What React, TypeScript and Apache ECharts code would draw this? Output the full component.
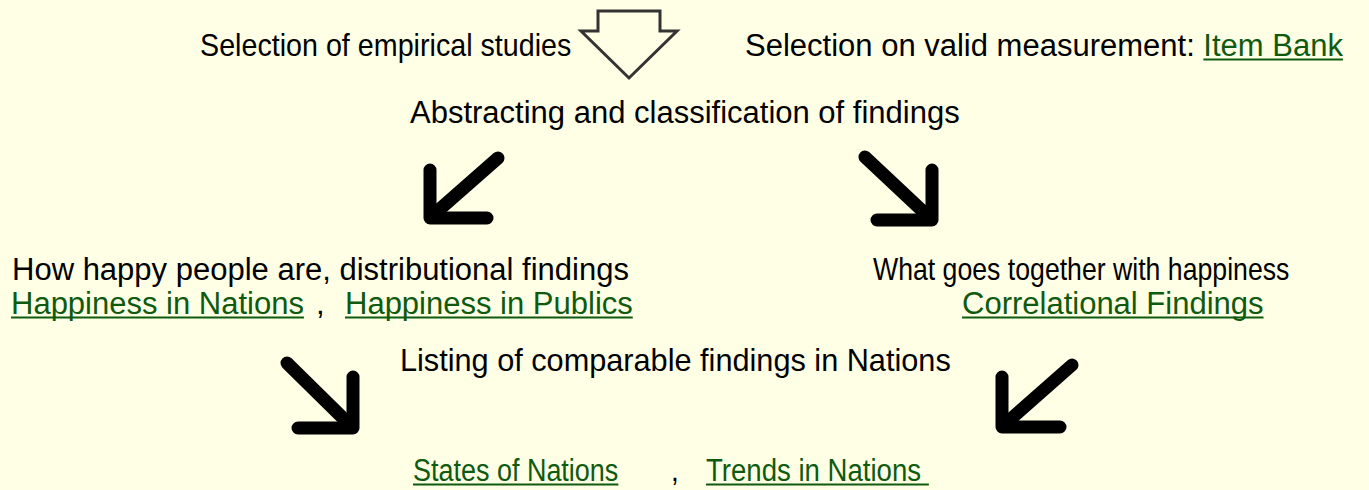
import React, { useEffect, useRef } from "react";
import * as echarts from "echarts";

const BG = "#FFFFE6";
const TEXT_COLOR = "#000000";
const LINK_COLOR = "#0E5A0E";
const FONT_FAMILY = "Liberation Sans";
const FONT_SIZE = 31;

// Texts: [text, left x, middle y, isLink, horizontal squeeze]
type Item = [string, number, number, boolean, number];
const rowTop: Item[] = [
  ["Selection of empirical studies", 200, 45, false, 0.925],
  ["Selection on valid measurement: ", 745, 45, false, 1],
];
const rowMid: Item[] = [
  ["Abstracting and classification of findings", 410, 112, false, 1],
  ["How happy people are, distributional findings", 12, 269, false, 1],
  ["What goes together with happiness", 873, 269, false, 0.86],
  ["Listing of comparable findings in Nations", 400, 360, false, 0.99],
];
const linkItems: Item[] = [
  ["Happiness in Nations", 11, 303, true, 1],
  [",", 316, 303, false, 1],
  ["Happiness in Publics", 345, 303, true, 1],
  ["Correlational Findings", 962, 303, true, 1],
  ["States of Nations", 413, 470, true, 0.87],
  [",", 671, 470, false, 0.9],
  ["Trends in Nations ", 706, 470, true, 0.89],
];
const trailingLink = "Item Bank"; // follows "Selection on valid measurement: "

// Black bent arrows: corner L (three points) and diagonal shaft (two points)
const arrowL: number[][][] = [
  [[430, 170], [430, 218], [487, 218]],
  [[932, 170], [932, 220], [877, 220]],
  [[353, 377], [353, 428], [298, 428]],
  [[1002, 377], [1002, 427], [1060, 427]],
];
const arrowDiag: number[][][] = [
  [[498, 158], [432, 216]],
  [[865, 157], [930, 218]],
  [[287, 363], [351, 426]],
  [[1072, 365], [1004, 425]],
];

// Hollow down arrow outline
const hollowArrow: number[][] = [
  [598, 11], [660, 11], [660, 31], [677, 31], [629, 78], [581, 31], [598, 31],
];

function measure(text: string): number {
  const c = document.createElement("canvas");
  const ctx = c.getContext("2d");
  if (!ctx) return text.length * FONT_SIZE * 0.5;
  ctx.font = `${FONT_SIZE}px "${FONT_FAMILY}"`;
  return ctx.measureText(text).width;
}

export default function App() {
  const ref = useRef<HTMLDivElement>(null);
  useEffect(() => {
    document.body.style.margin = "0";
    document.body.style.background = BG;
    if (!ref.current) return;
    const chart = echarts.init(ref.current, null, { renderer: "svg" });
    const elements: any[] = [];
    const add = ([t, x, y, link, sx]: Item) => {
      elements.push({
        type: "text",
        x,
        y,
        scaleX: sx,
        style: {
          text: t,
          fill: link ? LINK_COLOR : TEXT_COLOR,
          font: `${FONT_SIZE}px "${FONT_FAMILY}"`,
          lineHeight: FONT_SIZE,
          align: "left",
          verticalAlign: "middle",
        },
      });
      if (link) {
        const w = measure(t) * sx;
        const uy = y + FONT_SIZE * 0.47;
        elements.push({
          type: "line",
          shape: { x1: x, y1: uy, x2: x + w, y2: uy },
          style: { stroke: LINK_COLOR, lineWidth: 2 },
        });
      }
    };
    rowTop.forEach(add);
    rowMid.forEach(add);
    linkItems.forEach(add);
    const lead = rowTop[1];
    add([trailingLink, lead[1] + measure(lead[0]) * lead[4], lead[2], true, 1]);

    const arrowStyle = { stroke: "#000", lineWidth: 13, lineCap: "round", lineJoin: "round", fill: null };
    arrowL.forEach((pts) => elements.push({ type: "polyline", shape: { points: pts }, style: arrowStyle }));
    arrowDiag.forEach((pts) => elements.push({ type: "polyline", shape: { points: pts }, style: arrowStyle }));
    elements.push({
      type: "polygon",
      shape: { points: hollowArrow },
      style: { stroke: "#333", lineWidth: 3, fill: BG, lineJoin: "miter" },
    });
    chart.setOption({
      animation: false,
      backgroundColor: BG,
      graphic: { elements },
    });
    return () => chart.dispose();
  }, []);
  return (
    <div
      ref={ref}
      style={{ position: "fixed", left: 0, top: 0, width: 1369, height: 490, background: BG }}
    />
  );
}
